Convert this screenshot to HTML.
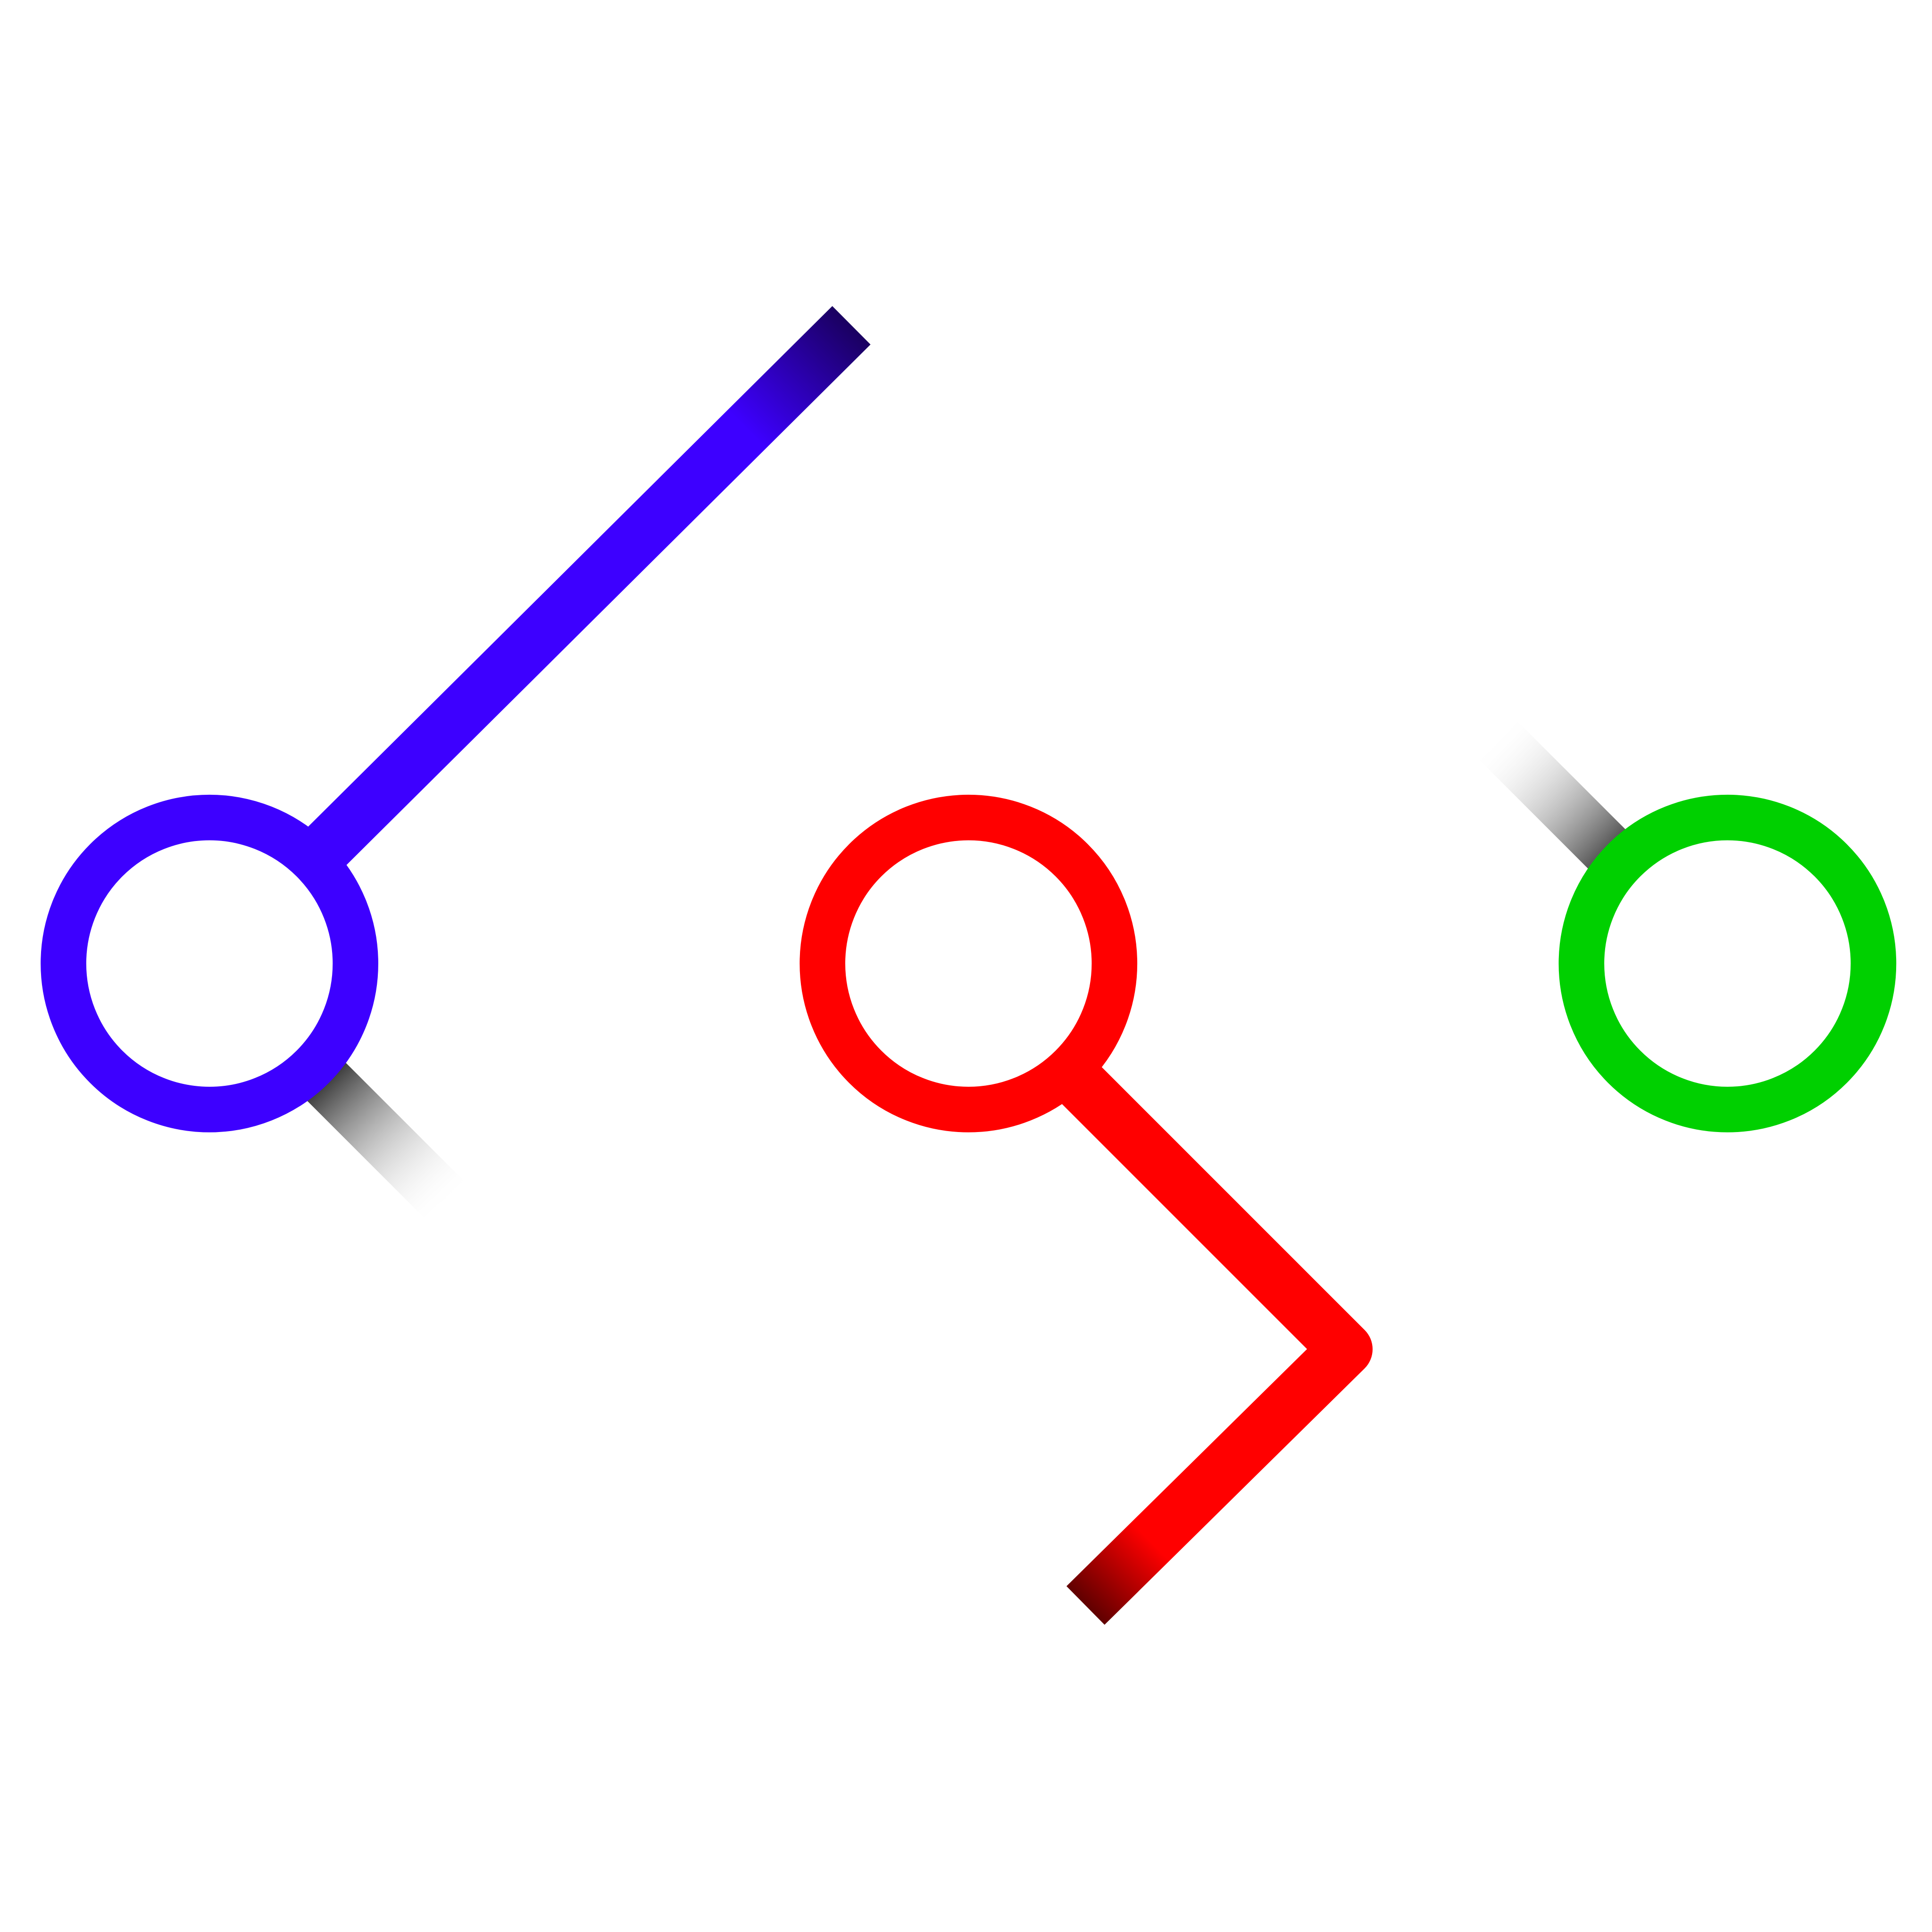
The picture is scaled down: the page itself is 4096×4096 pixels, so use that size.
<!DOCTYPE html>
<html><head><meta charset="utf-8"><style>html,body{margin:0;padding:0;background:#fff}svg{display:block}</style></head>
<body>
<svg id="chart" width="4096" height="4096" viewBox="0 0 1568 1568" xmlns="http://www.w3.org/2000/svg">
<defs>
<linearGradient id="gBlue" gradientUnits="userSpaceOnUse" x1="266" y1="686" x2="691" y2="264"><stop offset="0.8" stop-color="#3D00FF"/><stop offset="1" stop-color="#1a0060"/></linearGradient>
<linearGradient id="gRed" gradientUnits="userSpaceOnUse" x1="1092" y1="1095" x2="881" y2="1303"><stop offset="0.75" stop-color="#FF0000"/><stop offset="1" stop-color="#600000"/></linearGradient>
<linearGradient id="gGray1" gradientUnits="userSpaceOnUse" x1="262" y1="875" x2="362" y2="980"><stop offset="0" stop-color="#333"/><stop offset="1" stop-color="#fff" stop-opacity="0"/></linearGradient>
<linearGradient id="gGray2" gradientUnits="userSpaceOnUse" x1="1305" y1="690" x2="1210" y2="600"><stop offset="0" stop-color="#555"/><stop offset="1" stop-color="#fff" stop-opacity="0"/></linearGradient>
</defs>
<g id="layer"></g>
</svg>
<script>
const nodeX = [170, 786, 1402];
const nodeY = [782, 782, 782];
const nodeColors = ['#3D00FF', '#FF0000', '#00D000'];
const NS = 'http://www.w3.org/2000/svg';
const layer = document.getElementById('layer');
function line(pts, stroke, name, join) {
  const p = document.createElementNS(NS, 'polyline');
  p.setAttribute('points', pts.map(q => q.join(',')).join(' '));
  p.setAttribute('fill', 'none');
  p.setAttribute('stroke', stroke);
  p.setAttribute('stroke-width', '44');
  p.setAttribute('stroke-linejoin', join || 'miter');
  
  
  layer.appendChild(p);
}
line([[262,875],[362,975]], 'url(#gGray1)', 'gray-edge-left');
line([[1305,690],[1215,600]], 'url(#gGray2)', 'gray-edge-right');
line([[250,702],[691,264]], 'url(#gBlue)', 'blue-edge');
line([[870,873],[1092,1095],[881,1303]], 'url(#gRed)', 'red-edge', 'round');
for (let i = 0; i < nodeX.length; i++) {
  const c = document.createElementNS(NS, 'circle');
  c.setAttribute('cx', nodeX[i]);
  c.setAttribute('cy', nodeY[i]);
  c.setAttribute('r', 118.5);
  c.setAttribute('fill', '#fff');
  c.setAttribute('stroke', nodeColors[i]);
  c.setAttribute('stroke-width', 37);
  
  
  layer.appendChild(c);
}
</script>
</body></html>
